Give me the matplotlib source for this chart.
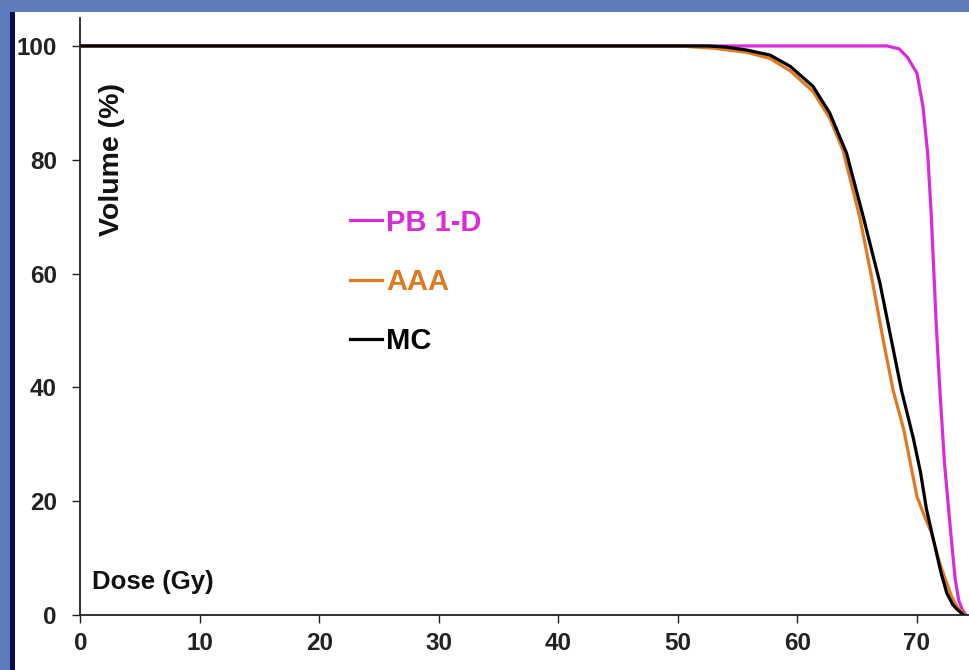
import numpy as np
import matplotlib
matplotlib.use("Agg")
import matplotlib.pyplot as plt
from matplotlib.patches import Rectangle
from matplotlib.lines import Line2D

plt.rcParams['font.family'] = ['Liberation Sans', 'DejaVu Sans']
plt.rcParams['font.weight'] = 'bold'

# dose-volume histogram values
dose_pb = [0, 67.5, 68.5, 69.2, 70.0, 70.5, 70.9, 71.2, 71.6, 71.9, 72.3, 72.8, 73.2, 73.5, 73.8, 74.1]
vol_pb = [100, 100, 99.5, 98.0, 95.2, 89.3, 81.0, 70.0, 51.5, 40.0, 26.7, 15.0, 6.2, 2.5, 0.9, 0]

dose_aaa = [0, 50, 53, 55.7, 57.7, 59.4, 61.3, 62.7, 63.8, 65.2, 66.3, 67.2, 68.0, 68.9,
            70.0, 70.6, 71.2, 71.9, 72.9, 73.4, 74.0]
vol_aaa = [100, 100, 99.6, 98.9, 97.8, 95.6, 92.0, 87.3, 81.7, 70.0, 58.3, 48.0, 39.5, 32.5,
           20.8, 17.5, 14.5, 9.1, 3.2, 1.3, 0]

dose_mc = [0, 52.5, 54, 55.7, 57.7, 59.4, 61.3, 62.7, 64.1, 65.5, 66.9, 68.7, 69.7, 70.3,
           70.8, 71.4, 72.0, 72.5, 73.0, 73.4, 73.9]
vol_mc = [100, 100, 99.8, 99.3, 98.4, 96.4, 92.9, 88.2, 81.2, 70.0, 58.3, 39.5, 31.0, 25.0,
          18.5, 13.0, 7.5, 3.8, 1.8, 0.9, 0]

series = ['PB 1-D', 'AAA', 'MC']
colors = ['#d92bd9', '#e07a22', '#000000']
x_ticks = [0, 10, 20, 30, 40, 50, 60, 70]
y_ticks = [0, 20, 40, 60, 80, 100]

W, H = 970, 670
fig = plt.figure(figsize=(W / 100, H / 100), dpi=100)
fig.patch.set_facecolor('#5f7dbd')
# white slide panel and the dark strip at its left edge
fig.patches.append(Rectangle((15 / W, 0), 1, (H - 12) / H, transform=fig.transFigure,
                             facecolor='white', edgecolor='none', zorder=-2))
fig.patches.append(Rectangle((10 / W, 0), 5 / W, (H - 12) / H, transform=fig.transFigure,
                             facecolor='#0b0b55', edgecolor='none', zorder=-2))

ax = fig.add_axes([80.5 / W, 55 / H, (W - 80.5) / W, 597.5 / H])
ax.set_facecolor('none')

for d, v, c in zip([dose_pb, dose_aaa, dose_mc], [vol_pb, vol_aaa, vol_mc], colors):
    ax.plot(d, v, color=c, lw=2.3, solid_joinstyle='round')

ax.set_xlim(0, (W - 80.5) / 11.95)
ax.set_ylim(0, 105)
ax.set_xticks(x_ticks)
ax.set_yticks(y_ticks)
ax.tick_params(axis='both', direction='out', length=6, width=1, labelsize=17.5,
               colors='#222222')
ax.tick_params(axis='y', pad=11)
ax.tick_params(axis='x', pad=6)
for s in ['top', 'right']:
    ax.spines[s].set_visible(False)
for s in ['left', 'bottom']:
    ax.spines[s].set_linewidth(1.3)
    ax.spines[s].set_color('#222222')

ax.text(0.035, 0.762, 'Volume (%)', transform=ax.transAxes, rotation=90,
        ha='center', va='center', fontsize=20.5, color='#111111')
ax.text(0.013, 0.055, 'Dose (Gy)', transform=ax.transAxes,
        ha='left', va='center', fontsize=18.5, color='#111111')

handles = [Line2D([], [], color=c, lw=2.3) for c in colors]
leg = ax.legend(handles, series, loc='upper left', bbox_to_anchor=(0.303, 0.68),
                frameon=False, handlelength=1.1, handletextpad=0.15,
                labelspacing=1.07, borderpad=0, borderaxespad=0,
                labelcolor='linecolor', prop={'weight': 'bold', 'size': 21})

fig.savefig('out.png', dpi=100, facecolor=fig.get_facecolor())
